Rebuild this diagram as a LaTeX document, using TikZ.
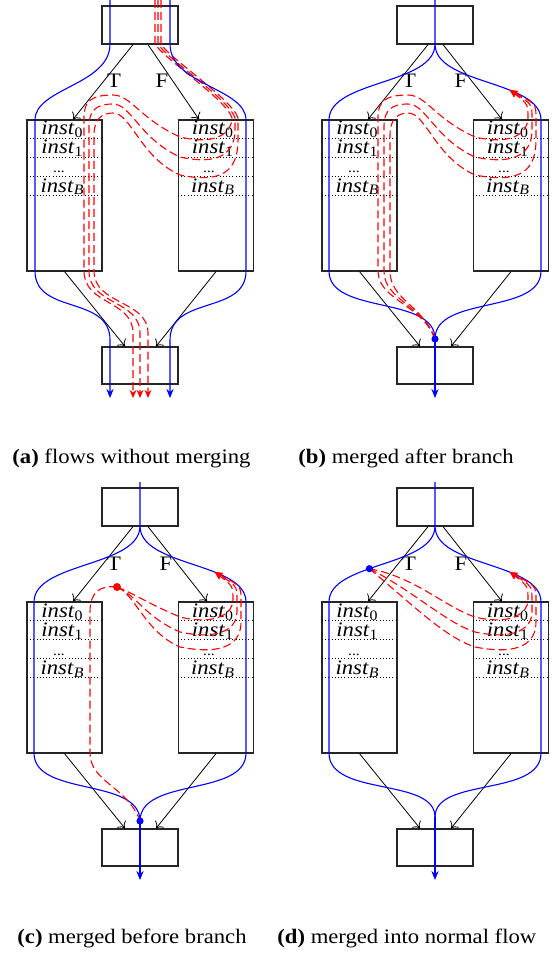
\documentclass[tikz,border=0pt]{standalone}
\usepackage{fontspec}
\setmainfont{Liberation Serif}[FakeStretch=1.1]
\usetikzlibrary{arrows.meta}
\newcommand\panelbase[3]{%
 \node[boxnode] (#1top) at (140,25) {};
 \node[blknode] (#1L) at (64.5,195.5) {};
 \node[blknode] (#1R) at (216,195.5) {};
 \node[boxnode, minimum height=18.5pt] (#1bot) at (140,365.5) {};
 \foreach \yy in {138,157,176,195}{\draw[rowsep] (27,\yy) -- (102,\yy); \draw[rowsep] (178,\yy) -- (254,\yy);}
 \node[txtnode] (#1la) at (62.5,135) {\textit{inst}\textsubscript{0}};
 \node[txtnode] (#1lb) at (62.5,154) {\textit{inst}\textsubscript{1}};
 \node[txtnode] (#1lc) at (59,173) {\scriptsize ...};
 \node[txtnode] (#1ld) at (62.5,192) {\textit{inst}\textsubscript{\textit{B}}};
 \node[txtnode] (#1ra) at (213,135) {\textit{inst}\textsubscript{0}};
 \node[txtnode] (#1rb) at (213,154) {\textit{inst}\textsubscript{1}};
 \node[txtnode] (#1rc) at (209,173) {\scriptsize ...};
 \node[txtnode] (#1rd) at (213,192) {\textit{inst}\textsubscript{\textit{B}}};
 \draw[ctrlarr] ([xshift=-3.5pt]#1top.south) -- ([xshift=4.25pt]#1L.north);
 \draw[ctrlarr] ([xshift=4pt]#1top.south) -- ([xshift=#2]#1R.north);
 \draw[ctrlarr] (#1L.south) -- ([xshift=-7.5pt]#1bot.north);
 \draw[ctrlarr] (#1R.south) -- ([xshift=8pt]#1bot.north);
 \node[txtnode] (#1T) at (114,88) {T};
 \node[txtnode] (#1F) at (#3,88) {F};
}
\begin{document}
\begin{tikzpicture}[x=0.5pt,y=-0.5pt,
  boxnode/.style={draw=black!85, line width=0.6pt, minimum width=38pt, minimum height=19pt, inner sep=0pt},
  blknode/.style={draw=black!85, line width=0.6pt, minimum width=37.5pt, minimum height=75.5pt, inner sep=0pt},
  rowsep/.style={line width=0.4pt, dash pattern=on 0.5pt off 1.1pt},
  txtnode/.style={font=\fontsize{10.3}{12}\selectfont, inner sep=0pt, anchor=base},
  ctrlarr/.style={line width=0.4pt, -{To[length=3pt,width=5.5pt]}},
  bflow/.style={blue, line width=0.55pt},
  bfarr/.style={bflow, -{Stealth[length=4.5pt,width=3.6pt]}},
  rflow/.style={red, line width=0.55pt, dash pattern=on 4pt off 2pt},
  rarr/.style={rflow, -{Stealth[length=4pt,width=3.4pt]}},
  captxt/.style={font=\fontsize{10.3}{12}\selectfont, inner sep=0pt, anchor=base west},
]
\useasboundingbox (0,0) rectangle (557,957);
\clip (0,0) rectangle (557,957);
% ---------------- (a)
\begin{scope}
 \panelbase{a}{-8.5pt}{162}
 \foreach \Lx/\Hy/\Yb/\Rx/\Ys/\Tx/\Bx in {94/113/175/238/140/161/148, 89/104/157/235/130/158/140, 84/95/137/232/118/155/133}{
  \draw[rarr] (\Tx,0) -- (\Tx,44) .. controls (\Tx+8,58) and (\Rx-5,100) .. (\Rx,118) -- (\Rx,\Ys) .. controls (\Rx,\Yb-5) and (\Rx-15,\Yb+9) .. (180,\Yb) .. controls (140,\Yb-18) and (131,\Hy) .. (113,\Hy) .. controls (\Lx+8,\Hy) and (\Lx,\Hy+6) .. (\Lx,\Hy+22) -- (\Lx,271) .. controls (\Lx,305) and (\Bx,300) .. (\Bx,333) -- (\Bx,398);
 }
 \draw[bfarr] (110,0) -- (110,44) .. controls (110,85) and (35,88) .. (35,120) -- (35,271) .. controls (35,315) and (110,295) .. (110,340) -- (110,398);
 \draw[bfarr] (170,0) -- (170,44) .. controls (170,85) and (246,88) .. (246,120) -- (246,271) .. controls (246,315) and (170,295) .. (170,340) -- (170,398);
\end{scope}
% ---------------- (b)
\begin{scope}[shift={(295,0)}]
 \panelbase{b}{-4.5pt}{166}
 \coordinate (bdot) at (140,339);
 \draw[bflow] (140,0) -- (140,44) .. controls (140,85) and (34,80) .. (34,120) -- (34,271) .. controls (34,315) and (140,295) .. (bdot);
 \draw[bflow] (140,44) .. controls (140,85) and (246,80) .. coordinate[pos=0.64] (barr) (246,120) -- (246,271) .. controls (246,315) and (140,295) .. (bdot);
 \foreach \Lx/\Hy/\Yb/\Rx/\Ys in {95/113/175/241/140, 89/104/157/237/130, 83/95/137/233/118}{
  \draw[rarr] (bdot) .. controls (128,305) and (\Lx,300) .. (\Lx,271) -- (\Lx,\Hy+22) .. controls (\Lx,\Hy+6) and (\Lx+8,\Hy) .. (113,\Hy) .. controls (131,\Hy) and (140,\Yb-18) .. (180,\Yb) .. controls (\Rx-15,\Yb+9) and (\Rx,\Yb-5) .. (\Rx,\Ys) -- (\Rx,118) .. controls (\Rx,104) .. (barr);
 }
 \draw[bfarr] (bdot) -- (140,398);
 \fill[blue] (bdot) circle (3.6);
\end{scope}
% ---------------- (c)
\begin{scope}[shift={(0,482)}]
 \panelbase{c}{-4.5pt}{166}
 \coordinate (cdot) at (140,339);
 \coordinate (cred) at (117,105);
 \draw[bflow] (140,0) -- (140,44) .. controls (140,85) and (34,80) .. (34,120) -- (34,271) .. controls (34,315) and (140,295) .. (cdot);
 \draw[bflow] (140,44) .. controls (140,85) and (246,80) .. coordinate[pos=0.64] (carr) (246,120) -- (246,271) .. controls (246,315) and (140,295) .. (cdot);
 \draw[rflow] (cred) .. controls (100,103) and (90,110) .. (90,130) -- (90,271) .. controls (90,300) and (128,305) .. (cdot);
 \foreach \Yb/\Rx/\Ys in {165/241/140, 150/237/130, 135/233/118}{
  \draw[rarr] (cred) .. controls (135,112) and (145,\Yb-15) .. (180,\Yb) .. controls (\Rx-15,\Yb+9) and (\Rx,\Yb-5) .. (\Rx,\Ys) -- (\Rx,118) .. controls (\Rx,104) .. (carr);
 }
 \draw[bfarr] (cdot) -- (140,398);
 \fill[blue] (cdot) circle (3.6);
 \fill[red] (cred) circle (4);
\end{scope}
% ---------------- (d)
\begin{scope}[shift={(295,482)}]
 \panelbase{d}{-4.5pt}{166}
 \coordinate (dbot) at (140,335);
 \draw[bflow] (140,0) -- (140,44) .. controls (140,85) and (34,80) .. coordinate[pos=0.58] (ddot) (34,120) -- (34,271) .. controls (34,315) and (140,295) .. (dbot);
 \draw[bflow] (140,44) .. controls (140,85) and (246,80) .. coordinate[pos=0.64] (darr) (246,120) -- (246,271) .. controls (246,315) and (140,295) .. (dbot);
 \foreach \Yb/\Rx/\Ys in {165/241/140, 150/237/130, 135/233/118}{
  \draw[rarr] (ddot) .. controls (120,\Yb-40) and (150,\Yb-10) .. (180,\Yb) .. controls (\Rx-15,\Yb+9) and (\Rx,\Yb-5) .. (\Rx,\Ys) -- (\Rx,118) .. controls (\Rx,104) .. (darr);
 }
 \draw[bfarr] (dbot) -- (140,398);
 \fill[blue] (ddot) circle (3.6);
\end{scope}
% captions
\node[captxt] (capa) at (12,463) {\textbf{(a)} flows without merging};
\node[captxt] (capb) at (298,463) {\textbf{(b)} merged after branch};
\node[captxt] (capc) at (17,943) {\textbf{(c)} merged before branch};
\node[captxt] (capd) at (277,943) {\textbf{(d)} merged into normal flow};
\end{tikzpicture}
\end{document}
